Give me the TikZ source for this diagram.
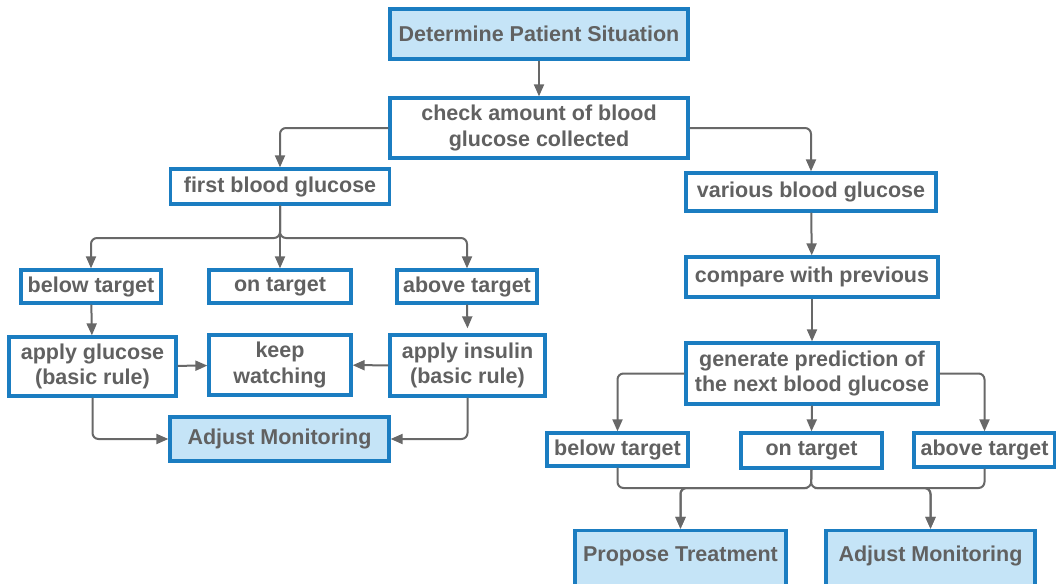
\documentclass[tikz,border=0pt]{standalone}
\usepackage{fontspec}
\setmainfont{Liberation Sans}
\usepackage{tikz}
\usetikzlibrary{positioning,arrows.meta}
\definecolor{boxblue}{HTML}{1B7DC1}
\definecolor{boxfill}{HTML}{C5E4F7}
\definecolor{txtgray}{HTML}{616161}
\definecolor{lnkgray}{HTML}{686868}

\begin{document}
\begin{tikzpicture}[x=1pt,y=-1pt,
  box/.style={draw=boxblue,line width=3.3pt,fill=white,text=txtgray,align=center,
    font=\fontsize{21.5}{25.5}\selectfont\bfseries,inner sep=0pt},
  keybox/.style={box,fill=boxfill},
  link/.style={draw=lnkgray,line width=2pt,rounded corners=6pt,
    -{Triangle[length=12pt,width=10pt]}}]
\useasboundingbox (0,0) rectangle (1056,583);
\clip (0,0) rectangle (1056,583);
% top of the chart
\node [keybox,minimum width=298pt,minimum height=50pt] (start) at (539,34) {Determine Patient Situation};
\node [box,minimum width=298pt,minimum height=60pt] (check) at (539,128) {check amount of blood\\glucose collected};
\node [box,minimum width=219pt,minimum height=35pt] (first) at (280,186.5) {first blood glucose};
\node [box,minimum width=250pt,minimum height=38pt] (various) at (811,192) {various blood glucose};
% first blood glucose branch
\node [box,minimum width=140pt,minimum height=33pt] (below1) at (91,286.5) {below target};
\node [box,minimum width=142pt,minimum height=33pt] (on1) at (280,286.5) {on target};
\node [box,minimum width=140pt,minimum height=33pt] (above1) at (467,286.5) {above target};
\node [box,minimum width=167pt,minimum height=59pt] (glucose) at (92.5,366.5) {apply glucose\\(basic rule)};
\node [box,minimum width=142pt,minimum height=60pt] (keep) at (280,365) {keep\\watching};
\node [box,minimum width=155pt,minimum height=61pt] (insulin) at (467.5,365.5) {apply insulin\\(basic rule)};
\node [keybox,minimum width=219pt,minimum height=44pt] (adjustA) at (279.5,439) {Adjust Monitoring};
% various blood glucose branch
\node [box,minimum width=252pt,minimum height=40pt] (compare) at (812,277) {compare with previous};
\node [box,minimum width=252pt,minimum height=61pt] (predict) at (812,373.5) {generate prediction of\\the next blood glucose};
\node [box,minimum width=141pt,minimum height=33pt] (below2) at (617.5,449.5) {below target};
\node [box,minimum width=141pt,minimum height=35pt] (on2) at (811.5,450.5) {on target};
\node [box,minimum width=141pt,minimum height=34pt] (above2) at (984.5,450) {above target};
\node [keybox,minimum width=211pt,text height=31pt,text depth=30pt] (propose) at (680.5,561) {Propose Treatment};
\node [keybox,minimum width=209pt,text height=31pt,text depth=30pt] (adjustB) at (930.5,561) {Adjust Monitoring};
\coordinate (splitA) at (280,238);
\coordinate (mergeB) at (811,488);

\draw [link] (start) -- (check);
\draw [link] (check.west) -| (first.north);
\draw [link] (check.east) -| (various.north);
\draw [link] (first.south) -- (splitA) -| (below1.north);
\draw [link] (first.south) -- (on1.north);
\draw [link] (first.south) -- (splitA) -| (above1.north);
\draw [link] (below1) -- (glucose);
\draw [link] (above1.south) -- ([yshift=5pt]insulin.north);
\draw [link] (glucose) -- (keep);
\draw [link] (insulin) -- (keep);
\draw [link] (glucose.south) |- (adjustA.west);
\draw [link] (insulin.south) |- (adjustA.east);
\draw [link] (various) -- (compare);
\draw [link] (compare) -- (predict);
\draw [link] (predict.west) -| (below2.north);
\draw [link] (predict.south) -- (on2.north);
\draw [link] (predict.east) -| (above2.north);
\draw [link] (below2.south) |- (mergeB) -| (propose.north);
\draw [link] (on2.south) -- (mergeB) -| (propose.north);
\draw [link] (on2.south) -- (mergeB) -| (adjustB.north);
\draw [link] (above2.south) |- (mergeB) -| (adjustB.north);
\end{tikzpicture}
\end{document}
